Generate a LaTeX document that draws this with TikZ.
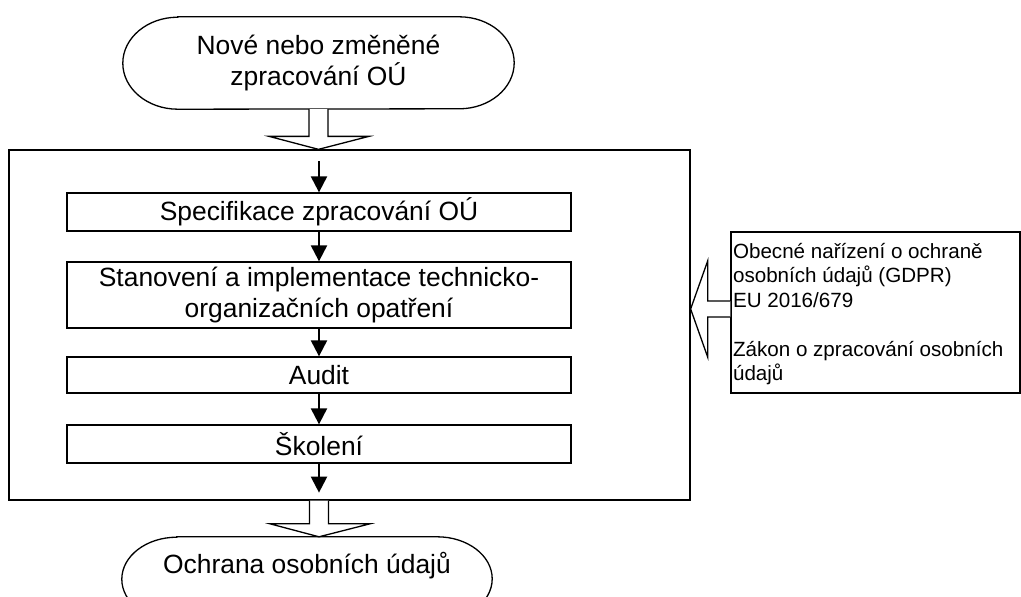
\documentclass[tikz,border=0pt]{standalone}
\usepackage{fontspec}
\setmainfont{Liberation Sans}
\usetikzlibrary{calc,arrows.meta}
\newcommand\flowfont{\fontsize{26.4}{30.4}\selectfont}
\newcommand\lawfont{\fontsize{20.6}{24.5}\selectfont}
\begin{document}
\begin{tikzpicture}[x=1pt,y=-1pt,
  outline/.style={line width=1.3pt},
  stepbox/.style={draw, line width=1.3pt, minimum width=504pt, inner sep=0pt,
    align=center, font=\flowfont},
  flow/.style={line width=2.2pt, -{Triangle[length=16pt,width=16pt]}},
  blockarrow/.style={draw, line width=1.3pt, fill=white, line join=miter}]
\useasboundingbox (0,0) rectangle (1021,597);

% outer frame holding the process steps
\node[draw, line width=1.3pt, minimum width=681pt, minimum height=350pt, inner sep=0pt]
  (frame) at (349.5,325) {};

% process steps
\node[stepbox, minimum height=38pt] (spec) at (319,212) {Specifikace zpracování OÚ};
\node[stepbox, minimum height=66pt] (measures) at (319,295)
  {Stanovení a implementace technicko-\\organizačních opatření};
\node[stepbox, minimum height=36pt] (audit) at (319,375) {Audit};
\node[stepbox, minimum height=38pt] (training) at (319,444) {Školení};

% start terminator
\node[align=center, font=\flowfont, minimum width=391pt, minimum height=92pt, inner sep=0pt]
  (start) at (318.5,63) {Nové nebo změněné\\zpracování OÚ};
\draw[outline] ([xshift=55pt]start.north west) -- ([xshift=-55pt]start.north east)
  arc[start angle=90, end angle=-90, x radius=55pt, y radius=46pt]
  -- ([xshift=55pt]start.south west)
  arc[start angle=270, end angle=90, x radius=55pt, y radius=46pt] -- cycle;

% end terminator
\node[font=\flowfont, minimum width=370pt, minimum height=84pt, inner sep=0pt,
  text height=19pt, text depth=31pt]
  (finish) at (307,579) {Ochrana osobních údajů};
\draw[outline] ([xshift=55pt]finish.north west) -- ([xshift=-55pt]finish.north east)
  arc[start angle=90, end angle=-90, x radius=55pt, y radius=42pt]
  -- ([xshift=55pt]finish.south west)
  arc[start angle=270, end angle=90, x radius=55pt, y radius=42pt] -- cycle;

% legislation box
\node[draw, line width=1.3pt, minimum width=289pt, minimum height=161pt, inner sep=0pt]
  (laws) at (875.5,312.5) {};
\node[anchor=base west, inner sep=0pt, font=\lawfont] (lawstext)
  at ($(laws.north west)+(2.5,27)$)
  {\parbox[t]{285pt}{\raggedright Obecné nařízení o ochraně\\osobních údajů (GDPR)\\EU 2016/679\\[\baselineskip]Zákon o zpracování osobních\\údajů}};

% flow between the steps
\coordinate (entry) at ($(spec.north |- frame.north)+(0,12)$);
\coordinate (exit) at ($(training.south |- frame.south)+(0,-8)$);
\draw[flow] (entry) -- (spec);
\draw[flow] (spec) -- (measures);
\draw[flow] (measures) -- (audit);
\draw[flow] (audit) -- (training);
\draw[flow] (training) -- (exit);

% block arrow: start -> frame
\coordinate (intip) at (start.south |- frame.north);
\draw[blockarrow] ($(start.south)+(-9.5,0)$) -- ($(intip)+(-9.5,-13)$)
  -- ($(intip)+(-49.5,-13)$) -- (intip) -- ($(intip)+(50.5,-13)$)
  -- ($(intip)+(9.5,-13)$) -- ($(start.south)+(9.5,0)$);

% block arrow: frame -> finish
\coordinate (outbase) at (training.south |- frame.south);
\coordinate (outtip) at (training.south |- finish.north);
\draw[blockarrow] ($(outbase)+(-9.5,0)$) -- ($(outtip)+(-9.5,-13)$)
  -- ($(outtip)+(-49,-13)$) -- (outtip) -- ($(outtip)+(51,-13)$)
  -- ($(outtip)+(9.5,-13)$) -- ($(outbase)+(9.5,0)$);

% block arrow: legislation -> frame
\coordinate (lawsport) at ($(laws.west)+(0,-3.5)$);
\coordinate (lawstip) at (frame.east |- lawsport);
\draw[blockarrow] ($(lawsport)+(0,-8)$) -- ($(lawstip)+(17,-8)$)
  -- ($(lawstip)+(17,-48)$) -- (lawstip) -- ($(lawstip)+(17,48)$)
  -- ($(lawstip)+(17,8)$) -- ($(lawsport)+(0,8)$);
\end{tikzpicture}
\end{document}
